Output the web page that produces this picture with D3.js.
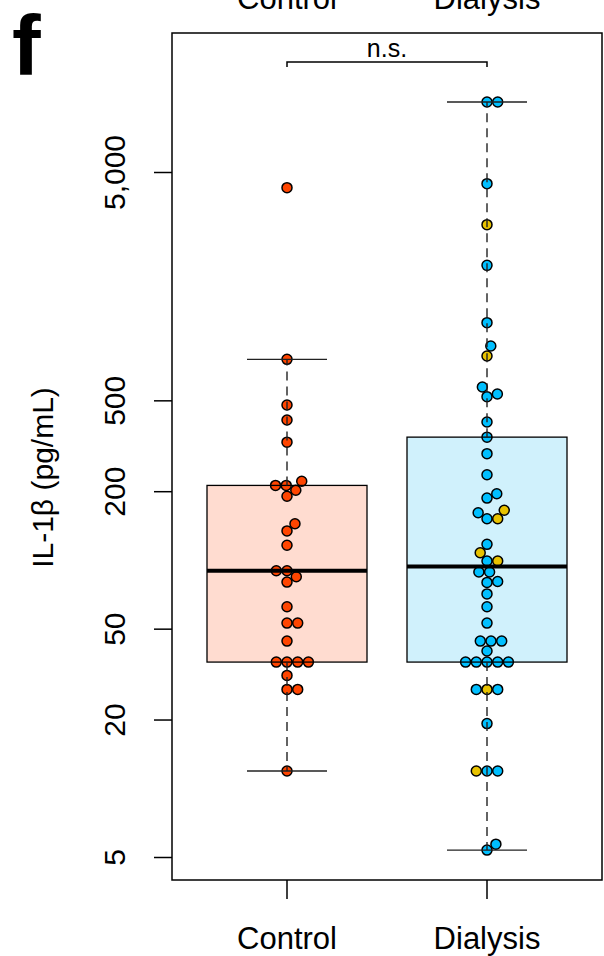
<!DOCTYPE html>
<html>
<head>
<meta charset="utf-8">
<script src="https://cdn.jsdelivr.net/npm/d3@7"></script>
<style>
  html, body { margin: 0; padding: 0; background: #fff; }
  svg { display: block; }
  text { font-family: "Liberation Sans", Arial, Helvetica, sans-serif; }
</style>
</head>
<body>
<svg id="chart" width="604" height="956"></svg>
<script>
// ---------------- data ----------------
const categories = ["Control", "Dialysis"];
const yTicks = [5, 20, 50, 200, 500, 5000];
const yLabel = "IL-1β (pg/mL)";
const panelLetter = "f";
const sigLabel = "n.s.";

const controlValues = [4270, 756, 477, 410, 328, 221, 212, 212, 202, 190, 144, 134, 116,
  89.7, 89.7, 84.4, 80, 62.4, 52.9, 52.9, 44.1, 35.7, 35.7, 35.7, 35.7, 31.2, 27.1, 27.1, 11.9];
const controlGroups = controlValues.map(() => "C");

const dialysisValues = [10130, 10130, 4444, 2940, 1950, 1094, 865, 782, 572, 533, 519, 402, 345,
  292, 236, 195, 186.6, 165, 161, 151.5, 151.5, 117, 107.5, 98.9, 98.9, 88.5, 88.5, 80.5, 79.7, 71,
  62.4, 52.9, 44.1, 44.1, 44.1, 39.9, 35.7, 35.7, 35.7, 35.7, 35.7, 27.1, 27.1, 27.1, 19.2,
  11.9, 11.9, 11.9, 5.69, 5.36];
const dialysisGroups = ["B","B","B","Y","B","B","B","Y","B","B","B","B","B",
  "B","B","B","B","Y","B","B","Y","B","Y","B","Y","B","B","B","B","B",
  "B","B","B","B","B","B","B","B","B","B","B","Y","B","B","B",
  "B","B","Y","B","B"];

const pointColors = { C: "#FF4500", B: "#00BFFF", Y: "#E8C200" };
const boxFills = { Control: "#FFDCD0", Dialysis: "#D0F1FC" };

// ---------------- layout ----------------
const svg = d3.select("#chart");
const frame = { left: 172, right: 602, top: 33, bottom: 880 };

const y = d3.scaleLog().domain([5, 5000]).range([857, 172]);
const x = d3.scaleBand().domain(categories).range([187, 587]).padding(0);
const cx = c => x(c) + x.bandwidth() / 2;
const boxW = 160, capW = 80, diam = 10.7, r = 5.0;

function fivenumLog(vals) {
  const s = vals.map(v => Math.log10(v)).sort((a, b) => a - b);
  const n = s.length;
  const n4 = Math.floor((n + 3) / 2) / 2;
  const d = [1, n4, (n + 1) / 2, n + 1 - n4, n];
  return d.map(k => 0.5 * (s[Math.floor(k) - 1] + s[Math.ceil(k) - 1]));
}
function boxStats(vals) {
  const f = fivenumLog(vals);
  const iqr = f[3] - f[1];
  const logs = vals.map(v => Math.log10(v));
  const hi = d3.max(logs.filter(l => l <= f[3] + 1.5 * iqr));
  const lo = d3.min(logs.filter(l => l >= f[1] - 1.5 * iqr));
  return { q1: 10 ** f[1], med: 10 ** f[2], q3: 10 ** f[3], lo: 10 ** lo, hi: 10 ** hi };
}

function swarm(vals) {
  const order = vals.map((v, i) => i).sort((a, b) => (vals[a] - vals[b]) || (a - b));
  const placed = [];
  const xs = new Array(vals.length);
  for (const i of order) {
    const py = y(vals[i]);
    const cands = [0];
    for (const p of placed) {
      const dy = Math.abs(p.y - py);
      if (dy < diam) {
        const dx = Math.sqrt(diam * diam - dy * dy);
        cands.push(p.x + dx, p.x - dx);
      }
    }
    const ok = cands.filter(c => placed.every(p => Math.hypot(p.x - c, p.y - py) >= diam - 1e-6));
    ok.sort((a, b) => {
      const d = Math.abs(a) - Math.abs(b);
      if (Math.abs(d) > 1e-9) return d;
      return b - a;
    });
    xs[i] = ok[0];
    placed.push({ x: ok[0], y: py });
  }
  return xs;
}

const groups = [
  { cat: "Control", vals: controlValues, cols: controlGroups },
  { cat: "Dialysis", vals: dialysisValues, cols: dialysisGroups }
];

// box fills
groups.forEach(g => {
  g.stats = boxStats(g.vals);
  svg.append("rect")
    .attr("x", cx(g.cat) - boxW / 2).attr("width", boxW)
    .attr("y", y(g.stats.q3)).attr("height", y(g.stats.q1) - y(g.stats.q3))
    .attr("fill", boxFills[g.cat]).attr("stroke", "none");
});

// points
groups.forEach(g => {
  const xs = swarm(g.vals);
  svg.append("g").selectAll("circle").data(g.vals).join("circle")
    .attr("cx", (d, i) => cx(g.cat) + xs[i])
    .attr("cy", d => y(d))
    .attr("r", r)
    .attr("fill", (d, i) => pointColors[g.cols[i]])
    .attr("stroke", "#000").attr("stroke-width", 1.5);
});

// box outlines, medians, whiskers
groups.forEach(g => {
  const s = g.stats, c = cx(g.cat);
  svg.append("rect")
    .attr("x", c - boxW / 2).attr("width", boxW)
    .attr("y", y(s.q3)).attr("height", y(s.q1) - y(s.q3))
    .attr("fill", "none").attr("stroke", "#000").attr("stroke-width", 1.3);
  svg.append("line").attr("x1", c - boxW / 2).attr("x2", c + boxW / 2)
    .attr("y1", y(s.med)).attr("y2", y(s.med))
    .attr("stroke", "#000").attr("stroke-width", 4);
  [[s.q3, s.hi], [s.q1, s.lo]].forEach(([a, b]) => {
    svg.append("line").attr("x1", c).attr("x2", c).attr("y1", y(a)).attr("y2", y(b))
      .attr("stroke", "#222").attr("stroke-width", 1.4).attr("stroke-dasharray", "9,6");
    svg.append("line").attr("x1", c - capW / 2).attr("x2", c + capW / 2)
      .attr("y1", y(b)).attr("y2", y(b))
      .attr("stroke", "#222").attr("stroke-width", 1.4);
  });
});

// frame
svg.append("rect")
  .attr("x", frame.left).attr("y", frame.top)
  .attr("width", frame.right - frame.left).attr("height", frame.bottom - frame.top)
  .attr("fill", "none").attr("stroke", "#000").attr("stroke-width", 1.5);

// y axis
const yAxis = svg.append("g").attr("transform", `translate(${frame.left},0)`)
  .call(d3.axisLeft(y).tickValues(yTicks).tickFormat(d3.format(",")).tickSize(18).tickPadding(0));
yAxis.select(".domain").remove();
yAxis.selectAll(".tick line").attr("stroke", "#000").attr("stroke-width", 1.5);
yAxis.selectAll(".tick text")
  .attr("x", null).attr("dy", null)
  .attr("transform", "translate(-47,0) rotate(-90)")
  .attr("text-anchor", "middle")
  .attr("font-size", 30).attr("fill", "#000")
  .style("font-family", '"Liberation Sans", Arial, sans-serif');

// x axis
const xAxis = svg.append("g").attr("transform", `translate(0,${frame.bottom})`)
  .call(d3.axisBottom(x).tickSize(19).tickPadding(0));
xAxis.select(".domain").remove();
xAxis.selectAll(".tick line").attr("stroke", "#000").attr("stroke-width", 1.5);
xAxis.selectAll(".tick text")
  .attr("y", 69).attr("dy", null)
  .attr("font-size", 31).attr("fill", "#000")
  .style("font-family", '"Liberation Sans", Arial, sans-serif');

// y label
svg.append("text")
  .attr("transform", `translate(53,${(383 + 572) / 2}) rotate(-90)`)
  .attr("text-anchor", "middle").attr("font-size", 30).text(yLabel);

// top clipped labels from previous panel
categories.forEach(c => {
  svg.append("text").attr("x", cx(c)).attr("y", 9)
    .attr("text-anchor", "middle").attr("font-size", 31).text(c);
});

// panel letter
svg.append("text").attr("x", 12).attr("y", 75)
  .attr("font-size", 86).attr("font-weight", "bold").text(panelLetter);

// significance bracket
const bY = 62;
svg.append("path")
  .attr("d", `M${cx("Control")},${bY + 5}V${bY}H${cx("Dialysis")}V${bY + 5}`)
  .attr("fill", "none").attr("stroke", "#000").attr("stroke-width", 1.5);
svg.append("text").attr("x", (cx("Control") + cx("Dialysis")) / 2).attr("y", bY - 5)
  .attr("text-anchor", "middle").attr("font-size", 25).text(sigLabel);
</script>
</body>
</html>
